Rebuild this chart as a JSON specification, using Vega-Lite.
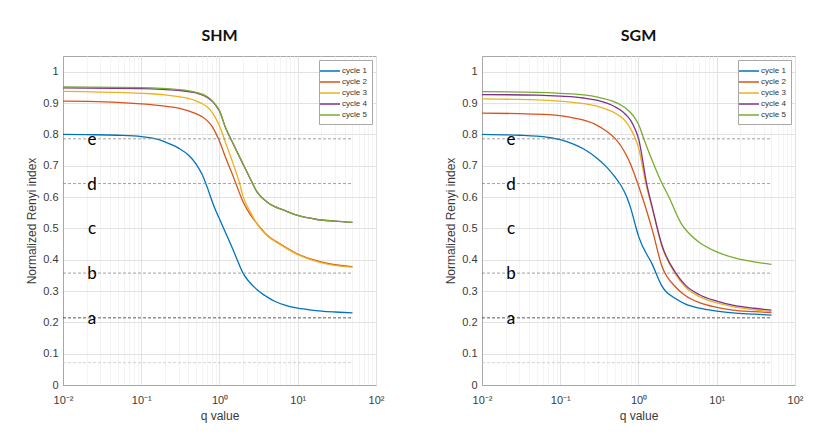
{
  "$schema": "https://vega.github.io/schema/vega-lite/v6.json",
  "padding": {"left": 25, "top": 27, "right": 5, "bottom": 5},
  "background": "white",
  "datasets": {
    "levels": [
      {"lab": "", "v": 0.0714, "q": 0.01, "q2": 50, "kind": "faint"},
      {"lab": "a", "v": 0.2143, "q": 0.01, "q2": 50, "kind": "dark"},
      {"lab": "b", "v": 0.3571, "q": 0.01, "q2": 50, "kind": "mid"},
      {"lab": "c", "v": 0.5, "q": 0.01, "q2": 50, "kind": "none"},
      {"lab": "d", "v": 0.6429, "q": 0.01, "q2": 50, "kind": "mid"},
      {"lab": "e", "v": 0.7857, "q": 0.01, "q2": 50, "kind": "mid"}
    ],
    "shm": [
      {"cycle": "cycle 1", "q": 0.01, "v": 0.800}, {"cycle": "cycle 1", "q": 0.02, "v": 0.799}, {"cycle": "cycle 1", "q": 0.05, "v": 0.797}, {"cycle": "cycle 1", "q": 0.1, "v": 0.793}, {"cycle": "cycle 1", "q": 0.15, "v": 0.786}, {"cycle": "cycle 1", "q": 0.2, "v": 0.776}, {"cycle": "cycle 1", "q": 0.3, "v": 0.756}, {"cycle": "cycle 1", "q": 0.4, "v": 0.734}, {"cycle": "cycle 1", "q": 0.5, "v": 0.706}, {"cycle": "cycle 1", "q": 0.6, "v": 0.672}, {"cycle": "cycle 1", "q": 0.7, "v": 0.630}, {"cycle": "cycle 1", "q": 0.8, "v": 0.588}, {"cycle": "cycle 1", "q": 0.9, "v": 0.555}, {"cycle": "cycle 1", "q": 1, "v": 0.530}, {"cycle": "cycle 1", "q": 1.2, "v": 0.485}, {"cycle": "cycle 1", "q": 1.5, "v": 0.430}, {"cycle": "cycle 1", "q": 2, "v": 0.357}, {"cycle": "cycle 1", "q": 3, "v": 0.305}, {"cycle": "cycle 1", "q": 4, "v": 0.282}, {"cycle": "cycle 1", "q": 5, "v": 0.268}, {"cycle": "cycle 1", "q": 7, "v": 0.254}, {"cycle": "cycle 1", "q": 10, "v": 0.245}, {"cycle": "cycle 1", "q": 15, "v": 0.239}, {"cycle": "cycle 1", "q": 20, "v": 0.236}, {"cycle": "cycle 1", "q": 30, "v": 0.233}, {"cycle": "cycle 1", "q": 50, "v": 0.230},
      {"cycle": "cycle 2", "q": 0.01, "v": 0.906}, {"cycle": "cycle 2", "q": 0.02, "v": 0.905}, {"cycle": "cycle 2", "q": 0.05, "v": 0.902}, {"cycle": "cycle 2", "q": 0.1, "v": 0.897}, {"cycle": "cycle 2", "q": 0.2, "v": 0.890}, {"cycle": "cycle 2", "q": 0.3, "v": 0.884}, {"cycle": "cycle 2", "q": 0.5, "v": 0.866}, {"cycle": "cycle 2", "q": 0.6, "v": 0.856}, {"cycle": "cycle 2", "q": 0.7, "v": 0.843}, {"cycle": "cycle 2", "q": 0.8, "v": 0.826}, {"cycle": "cycle 2", "q": 0.9, "v": 0.803}, {"cycle": "cycle 2", "q": 1, "v": 0.778}, {"cycle": "cycle 2", "q": 1.2, "v": 0.725}, {"cycle": "cycle 2", "q": 1.5, "v": 0.665}, {"cycle": "cycle 2", "q": 2, "v": 0.585}, {"cycle": "cycle 2", "q": 2.5, "v": 0.542}, {"cycle": "cycle 2", "q": 3, "v": 0.516}, {"cycle": "cycle 2", "q": 4, "v": 0.480}, {"cycle": "cycle 2", "q": 6, "v": 0.450}, {"cycle": "cycle 2", "q": 10, "v": 0.418}, {"cycle": "cycle 2", "q": 16, "v": 0.399}, {"cycle": "cycle 2", "q": 25, "v": 0.387}, {"cycle": "cycle 2", "q": 50, "v": 0.378},
      {"cycle": "cycle 3", "q": 0.01, "v": 0.937}, {"cycle": "cycle 3", "q": 0.02, "v": 0.936}, {"cycle": "cycle 3", "q": 0.05, "v": 0.934}, {"cycle": "cycle 3", "q": 0.1, "v": 0.931}, {"cycle": "cycle 3", "q": 0.2, "v": 0.926}, {"cycle": "cycle 3", "q": 0.3, "v": 0.920}, {"cycle": "cycle 3", "q": 0.5, "v": 0.907}, {"cycle": "cycle 3", "q": 0.6, "v": 0.898}, {"cycle": "cycle 3", "q": 0.7, "v": 0.887}, {"cycle": "cycle 3", "q": 0.8, "v": 0.871}, {"cycle": "cycle 3", "q": 0.9, "v": 0.850}, {"cycle": "cycle 3", "q": 1, "v": 0.827}, {"cycle": "cycle 3", "q": 1.2, "v": 0.772}, {"cycle": "cycle 3", "q": 1.5, "v": 0.705}, {"cycle": "cycle 3", "q": 1.8, "v": 0.645}, {"cycle": "cycle 3", "q": 2, "v": 0.602}, {"cycle": "cycle 3", "q": 2.5, "v": 0.550}, {"cycle": "cycle 3", "q": 3, "v": 0.515}, {"cycle": "cycle 3", "q": 4, "v": 0.478}, {"cycle": "cycle 3", "q": 6, "v": 0.448}, {"cycle": "cycle 3", "q": 10, "v": 0.416}, {"cycle": "cycle 3", "q": 16, "v": 0.397}, {"cycle": "cycle 3", "q": 25, "v": 0.385}, {"cycle": "cycle 3", "q": 50, "v": 0.376},
      {"cycle": "cycle 4", "q": 0.01, "v": 0.948}, {"cycle": "cycle 4", "q": 0.1, "v": 0.946}, {"cycle": "cycle 4", "q": 0.3, "v": 0.940}, {"cycle": "cycle 4", "q": 0.5, "v": 0.932}, {"cycle": "cycle 4", "q": 0.7, "v": 0.918}, {"cycle": "cycle 4", "q": 0.8, "v": 0.906}, {"cycle": "cycle 4", "q": 0.9, "v": 0.892}, {"cycle": "cycle 4", "q": 1, "v": 0.874}, {"cycle": "cycle 4", "q": 1.2, "v": 0.820}, {"cycle": "cycle 4", "q": 1.5, "v": 0.769}, {"cycle": "cycle 4", "q": 2, "v": 0.705}, {"cycle": "cycle 4", "q": 2.5, "v": 0.656}, {"cycle": "cycle 4", "q": 3, "v": 0.617}, {"cycle": "cycle 4", "q": 4, "v": 0.585}, {"cycle": "cycle 4", "q": 5, "v": 0.570}, {"cycle": "cycle 4", "q": 6.5, "v": 0.559}, {"cycle": "cycle 4", "q": 10, "v": 0.541}, {"cycle": "cycle 4", "q": 17, "v": 0.529}, {"cycle": "cycle 4", "q": 30, "v": 0.523}, {"cycle": "cycle 4", "q": 50, "v": 0.519},
      {"cycle": "cycle 5", "q": 0.01, "v": 0.951}, {"cycle": "cycle 5", "q": 0.1, "v": 0.949}, {"cycle": "cycle 5", "q": 0.3, "v": 0.943}, {"cycle": "cycle 5", "q": 0.5, "v": 0.934}, {"cycle": "cycle 5", "q": 0.7, "v": 0.920}, {"cycle": "cycle 5", "q": 0.8, "v": 0.908}, {"cycle": "cycle 5", "q": 0.9, "v": 0.893}, {"cycle": "cycle 5", "q": 1, "v": 0.875}, {"cycle": "cycle 5", "q": 1.2, "v": 0.820}, {"cycle": "cycle 5", "q": 1.5, "v": 0.769}, {"cycle": "cycle 5", "q": 2, "v": 0.705}, {"cycle": "cycle 5", "q": 2.5, "v": 0.656}, {"cycle": "cycle 5", "q": 3, "v": 0.617}, {"cycle": "cycle 5", "q": 4, "v": 0.585}, {"cycle": "cycle 5", "q": 5, "v": 0.570}, {"cycle": "cycle 5", "q": 6.5, "v": 0.559}, {"cycle": "cycle 5", "q": 10, "v": 0.541}, {"cycle": "cycle 5", "q": 17, "v": 0.529}, {"cycle": "cycle 5", "q": 30, "v": 0.523}, {"cycle": "cycle 5", "q": 50, "v": 0.519}
    ],
    "sgm": [
      {"cycle": "cycle 1", "q": 0.01, "v": 0.800}, {"cycle": "cycle 1", "q": 0.03, "v": 0.797}, {"cycle": "cycle 1", "q": 0.05, "v": 0.794}, {"cycle": "cycle 1", "q": 0.07, "v": 0.790}, {"cycle": "cycle 1", "q": 0.1, "v": 0.783}, {"cycle": "cycle 1", "q": 0.15, "v": 0.768}, {"cycle": "cycle 1", "q": 0.2, "v": 0.753}, {"cycle": "cycle 1", "q": 0.3, "v": 0.722}, {"cycle": "cycle 1", "q": 0.4, "v": 0.693}, {"cycle": "cycle 1", "q": 0.5, "v": 0.664}, {"cycle": "cycle 1", "q": 0.6, "v": 0.636}, {"cycle": "cycle 1", "q": 0.7, "v": 0.603}, {"cycle": "cycle 1", "q": 0.8, "v": 0.562}, {"cycle": "cycle 1", "q": 0.9, "v": 0.515}, {"cycle": "cycle 1", "q": 1, "v": 0.475}, {"cycle": "cycle 1", "q": 1.5, "v": 0.385}, {"cycle": "cycle 1", "q": 2, "v": 0.315}, {"cycle": "cycle 1", "q": 3, "v": 0.275}, {"cycle": "cycle 1", "q": 4, "v": 0.258}, {"cycle": "cycle 1", "q": 6, "v": 0.245}, {"cycle": "cycle 1", "q": 10, "v": 0.236}, {"cycle": "cycle 1", "q": 16, "v": 0.230}, {"cycle": "cycle 1", "q": 30, "v": 0.226}, {"cycle": "cycle 1", "q": 50, "v": 0.223},
      {"cycle": "cycle 2", "q": 0.01, "v": 0.868}, {"cycle": "cycle 2", "q": 0.03, "v": 0.866}, {"cycle": "cycle 2", "q": 0.07, "v": 0.863}, {"cycle": "cycle 2", "q": 0.15, "v": 0.852}, {"cycle": "cycle 2", "q": 0.28, "v": 0.832}, {"cycle": "cycle 2", "q": 0.4, "v": 0.808}, {"cycle": "cycle 2", "q": 0.5, "v": 0.787}, {"cycle": "cycle 2", "q": 0.6, "v": 0.762}, {"cycle": "cycle 2", "q": 0.7, "v": 0.733}, {"cycle": "cycle 2", "q": 0.8, "v": 0.702}, {"cycle": "cycle 2", "q": 0.9, "v": 0.668}, {"cycle": "cycle 2", "q": 1, "v": 0.636}, {"cycle": "cycle 2", "q": 1.5, "v": 0.495}, {"cycle": "cycle 2", "q": 2, "v": 0.378}, {"cycle": "cycle 2", "q": 3, "v": 0.312}, {"cycle": "cycle 2", "q": 4, "v": 0.285}, {"cycle": "cycle 2", "q": 6, "v": 0.263}, {"cycle": "cycle 2", "q": 10, "v": 0.248}, {"cycle": "cycle 2", "q": 16, "v": 0.239}, {"cycle": "cycle 2", "q": 30, "v": 0.234}, {"cycle": "cycle 2", "q": 50, "v": 0.231},
      {"cycle": "cycle 3", "q": 0.01, "v": 0.913}, {"cycle": "cycle 3", "q": 0.05, "v": 0.910}, {"cycle": "cycle 3", "q": 0.1, "v": 0.906}, {"cycle": "cycle 3", "q": 0.2, "v": 0.898}, {"cycle": "cycle 3", "q": 0.3, "v": 0.889}, {"cycle": "cycle 3", "q": 0.5, "v": 0.868}, {"cycle": "cycle 3", "q": 0.6, "v": 0.855}, {"cycle": "cycle 3", "q": 0.7, "v": 0.838}, {"cycle": "cycle 3", "q": 0.8, "v": 0.816}, {"cycle": "cycle 3", "q": 0.9, "v": 0.790}, {"cycle": "cycle 3", "q": 1, "v": 0.758}, {"cycle": "cycle 3", "q": 1.24, "v": 0.643}, {"cycle": "cycle 3", "q": 1.5, "v": 0.563}, {"cycle": "cycle 3", "q": 2, "v": 0.441}, {"cycle": "cycle 3", "q": 3, "v": 0.352}, {"cycle": "cycle 3", "q": 4, "v": 0.312}, {"cycle": "cycle 3", "q": 6, "v": 0.282}, {"cycle": "cycle 3", "q": 10, "v": 0.262}, {"cycle": "cycle 3", "q": 16, "v": 0.250}, {"cycle": "cycle 3", "q": 30, "v": 0.240}, {"cycle": "cycle 3", "q": 50, "v": 0.234},
      {"cycle": "cycle 4", "q": 0.01, "v": 0.927}, {"cycle": "cycle 4", "q": 0.05, "v": 0.925}, {"cycle": "cycle 4", "q": 0.1, "v": 0.922}, {"cycle": "cycle 4", "q": 0.2, "v": 0.916}, {"cycle": "cycle 4", "q": 0.3, "v": 0.908}, {"cycle": "cycle 4", "q": 0.5, "v": 0.888}, {"cycle": "cycle 4", "q": 0.6, "v": 0.876}, {"cycle": "cycle 4", "q": 0.7, "v": 0.861}, {"cycle": "cycle 4", "q": 0.8, "v": 0.843}, {"cycle": "cycle 4", "q": 0.9, "v": 0.818}, {"cycle": "cycle 4", "q": 1, "v": 0.787}, {"cycle": "cycle 4", "q": 1.27, "v": 0.643}, {"cycle": "cycle 4", "q": 1.5, "v": 0.567}, {"cycle": "cycle 4", "q": 2, "v": 0.445}, {"cycle": "cycle 4", "q": 3, "v": 0.357}, {"cycle": "cycle 4", "q": 4, "v": 0.318}, {"cycle": "cycle 4", "q": 6, "v": 0.288}, {"cycle": "cycle 4", "q": 10, "v": 0.268}, {"cycle": "cycle 4", "q": 16, "v": 0.255}, {"cycle": "cycle 4", "q": 30, "v": 0.245}, {"cycle": "cycle 4", "q": 50, "v": 0.239},
      {"cycle": "cycle 5", "q": 0.01, "v": 0.936}, {"cycle": "cycle 5", "q": 0.05, "v": 0.934}, {"cycle": "cycle 5", "q": 0.1, "v": 0.931}, {"cycle": "cycle 5", "q": 0.2, "v": 0.926}, {"cycle": "cycle 5", "q": 0.3, "v": 0.919}, {"cycle": "cycle 5", "q": 0.5, "v": 0.903}, {"cycle": "cycle 5", "q": 0.6, "v": 0.893}, {"cycle": "cycle 5", "q": 0.7, "v": 0.882}, {"cycle": "cycle 5", "q": 0.8, "v": 0.868}, {"cycle": "cycle 5", "q": 0.9, "v": 0.852}, {"cycle": "cycle 5", "q": 1, "v": 0.832}, {"cycle": "cycle 5", "q": 1.2, "v": 0.778}, {"cycle": "cycle 5", "q": 1.5, "v": 0.716}, {"cycle": "cycle 5", "q": 2, "v": 0.643}, {"cycle": "cycle 5", "q": 2.5, "v": 0.595}, {"cycle": "cycle 5", "q": 3, "v": 0.550}, {"cycle": "cycle 5", "q": 3.5, "v": 0.516}, {"cycle": "cycle 5", "q": 4.5, "v": 0.482}, {"cycle": "cycle 5", "q": 6, "v": 0.455}, {"cycle": "cycle 5", "q": 10, "v": 0.425}, {"cycle": "cycle 5", "q": 16, "v": 0.407}, {"cycle": "cycle 5", "q": 30, "v": 0.393}, {"cycle": "cycle 5", "q": 50, "v": 0.385}
    ]
  },
  "hconcat": [
    {
      "width": 313,
      "height": 329,
      "title": {"text": "SHM"},
      "encoding": {
        "x": {
          "field": "q", "type": "quantitative",
          "scale": {"type": "log", "domain": [0.01, 100], "nice": false},
          "axis": {
            "title": "q value",
            "values": [0.01, 0.02, 0.03, 0.04, 0.05, 0.06, 0.07, 0.08, 0.09, 0.1, 0.2, 0.3, 0.4, 0.5, 0.6, 0.7, 0.8, 0.9, 1, 2, 3, 4, 5, 6, 7, 8, 9, 10, 20, 30, 40, 50, 60, 70, 80, 90, 100],
            "labelExpr": "datum.value == 0.01 ? '10⁻²' : datum.value == 0.1 ? '10⁻¹' : datum.value == 1 ? '10⁰' : datum.value == 10 ? '10¹' : datum.value == 100 ? '10²' : ''",
            "labelOverlap": false,
            "gridColor": {"condition": {"test": "indexof([0.01, 0.1, 1, 10, 100], datum.value) >= 0", "value": "#e2e2e2"}, "value": "#f4f4f4"}
          }
        },
        "y": {
          "field": "v", "type": "quantitative",
          "scale": {"domain": [0, 1.05], "nice": false},
          "axis": {
            "title": "Normalized Renyi index",
            "values": [0, 0.1, 0.2, 0.3, 0.4, 0.5, 0.6, 0.7, 0.8, 0.9, 1],
            "tickCount": 11,
            "labelOverlap": false,
            "labelExpr": "datum.value == 0 ? '0' : datum.value >= 0.999 ? '1' : format(datum.value, '.1f')"
          }
        }
      },
      "layer": [
        {
          "data": {"name": "shm"},
          "mark": {"type": "line", "strokeWidth": 1.3, "interpolate": "monotone"},
          "encoding": {
            "color": {
              "field": "cycle", "type": "nominal",
              "scale": {"domain": ["cycle 1", "cycle 2", "cycle 3", "cycle 4", "cycle 5"], "range": ["#0072BD", "#D95319", "#EDB120", "#7E2F8E", "#77AC30"]},
              "legend": {"title": null}
            }
          }
        },
        {
          "data": {"name": "levels"},
          "transform": [{"filter": "datum.kind == 'faint'"}],
          "mark": {"type": "rule", "color": "#c8c8c8", "strokeDash": [3, 2], "strokeWidth": 0.8},
          "encoding": {"x2": {"field": "q2"}}
        },
        {
          "data": {"name": "levels"},
          "transform": [{"filter": "datum.kind == 'mid'"}],
          "mark": {"type": "rule", "color": "#8a8a8a", "strokeDash": [3, 2], "strokeWidth": 0.8},
          "encoding": {"x2": {"field": "q2"}}
        },
        {
          "data": {"name": "levels"},
          "transform": [{"filter": "datum.kind == 'dark'"}],
          "mark": {"type": "rule", "color": "#333333", "strokeDash": [3, 2], "strokeWidth": 0.8},
          "encoding": {"x2": {"field": "q2"}}
        },
        {
          "data": {"name": "levels"},
          "transform": [{"filter": "datum.lab != ''"}],
          "mark": {"type": "text", "font": "Lato", "fontSize": 17, "color": "#000000", "align": "center", "baseline": "middle", "dy": 1},
          "encoding": {
            "x": {"datum": 0.0235, "type": "quantitative"},
            "text": {"field": "lab"}
          }
        }
      ]
    },
    {
      "width": 313,
      "height": 329,
      "title": {"text": "SGM"},
      "encoding": {
        "x": {
          "field": "q", "type": "quantitative",
          "scale": {"type": "log", "domain": [0.01, 100], "nice": false},
          "axis": {
            "title": "q value",
            "values": [0.01, 0.02, 0.03, 0.04, 0.05, 0.06, 0.07, 0.08, 0.09, 0.1, 0.2, 0.3, 0.4, 0.5, 0.6, 0.7, 0.8, 0.9, 1, 2, 3, 4, 5, 6, 7, 8, 9, 10, 20, 30, 40, 50, 60, 70, 80, 90, 100],
            "labelExpr": "datum.value == 0.01 ? '10⁻²' : datum.value == 0.1 ? '10⁻¹' : datum.value == 1 ? '10⁰' : datum.value == 10 ? '10¹' : datum.value == 100 ? '10²' : ''",
            "labelOverlap": false,
            "gridColor": {"condition": {"test": "indexof([0.01, 0.1, 1, 10, 100], datum.value) >= 0", "value": "#e2e2e2"}, "value": "#f4f4f4"}
          }
        },
        "y": {
          "field": "v", "type": "quantitative",
          "scale": {"domain": [0, 1.05], "nice": false},
          "axis": {
            "title": "Normalized Renyi index",
            "values": [0, 0.1, 0.2, 0.3, 0.4, 0.5, 0.6, 0.7, 0.8, 0.9, 1],
            "tickCount": 11,
            "labelOverlap": false,
            "labelExpr": "datum.value == 0 ? '0' : datum.value >= 0.999 ? '1' : format(datum.value, '.1f')"
          }
        }
      },
      "layer": [
        {
          "data": {"name": "sgm"},
          "mark": {"type": "line", "strokeWidth": 1.3, "interpolate": "monotone"},
          "encoding": {
            "color": {
              "field": "cycle", "type": "nominal",
              "scale": {"domain": ["cycle 1", "cycle 2", "cycle 3", "cycle 4", "cycle 5"], "range": ["#0072BD", "#D95319", "#EDB120", "#7E2F8E", "#77AC30"]},
              "legend": {"title": null}
            }
          }
        },
        {
          "data": {"name": "levels"},
          "transform": [{"filter": "datum.kind == 'faint'"}],
          "mark": {"type": "rule", "color": "#c8c8c8", "strokeDash": [3, 2], "strokeWidth": 0.8},
          "encoding": {"x2": {"field": "q2"}}
        },
        {
          "data": {"name": "levels"},
          "transform": [{"filter": "datum.kind == 'mid'"}],
          "mark": {"type": "rule", "color": "#8a8a8a", "strokeDash": [3, 2], "strokeWidth": 0.8},
          "encoding": {"x2": {"field": "q2"}}
        },
        {
          "data": {"name": "levels"},
          "transform": [{"filter": "datum.kind == 'dark'"}],
          "mark": {"type": "rule", "color": "#333333", "strokeDash": [3, 2], "strokeWidth": 0.8},
          "encoding": {"x2": {"field": "q2"}}
        },
        {
          "data": {"name": "levels"},
          "transform": [{"filter": "datum.lab != ''"}],
          "mark": {"type": "text", "font": "Lato", "fontSize": 17, "color": "#000000", "align": "center", "baseline": "middle", "dy": 1},
          "encoding": {
            "x": {"datum": 0.0235, "type": "quantitative"},
            "text": {"field": "lab"}
          }
        }
      ]
    }
  ],
  "spacing": 59,
  "resolve": {"scale": {"color": "independent"}},
  "config": {
    "view": {"stroke": "#a8a8a8", "strokeWidth": 1},
    "title": {"font": "Lato", "fontSize": 16, "fontWeight": "bold", "color": "#111111", "offset": 12, "anchor": "middle"},
    "axis": {
      "domainColor": "#a8a8a8",
      "ticks": false,
      "gridColor": "#e2e2e2",
      "gridWidth": 1,
      "labelFont": "Liberation Sans",
      "labelFontSize": 11,
      "labelColor": "#3a3a3a",
      "titleFont": "Liberation Sans",
      "titleFontSize": 12,
      "titleFontWeight": "normal",
      "titleColor": "#3a3a3a",
      "labelOverlap": false,
      "labelFlush": false
    },
    "axisX": {"labelPadding": 9, "titlePadding": 5},
    "axisY": {"labelPadding": 5, "titlePadding": 4},
    "legend": {
      "orient": "top-right",
      "offset": 4,
      "strokeColor": "#a8a8a8",
      "fillColor": "white",
      "padding": 5,
      "symbolType": "M-2,0L2,0",
      "symbolSize": 100,
      "symbolStrokeWidth": 1.5,
      "labelFont": "Liberation Sans",
      "labelFontSize": 8,
      "labelColor": "#333333",
      "labelOffset": 6,
      "rowPadding": 1
    }
  }
}
